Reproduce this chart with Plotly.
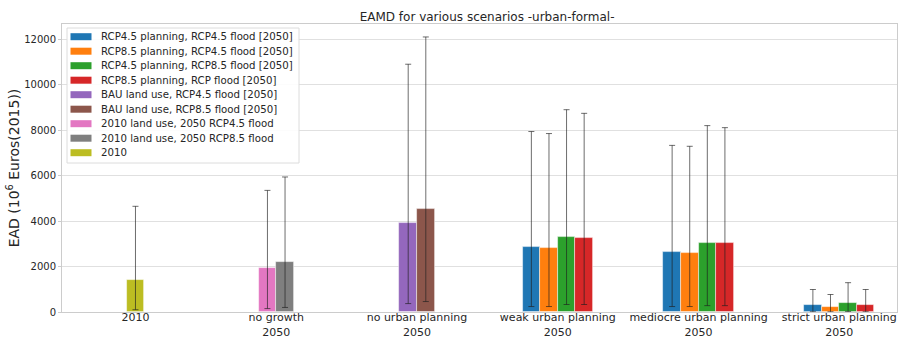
import plotly.graph_objects as go

# Scenario groups along the x axis
categories = ["2010", "no growth<br>2050", "no urban planning<br>2050",
              "weak urban planning<br>2050", "mediocre urban planning<br>2050",
              "strict urban planning<br>2050"]

# Series names
s_rcp45_45 = "RCP4.5 planning, RCP4.5 flood [2050]"
s_rcp85_45 = "RCP8.5 planning, RCP4.5 flood [2050]"
s_rcp45_85 = "RCP4.5 planning, RCP8.5 flood [2050]"
s_rcp85_85 = "RCP8.5 planning, RCP flood [2050]"
s_bau_45 = "BAU land use, RCP4.5 flood [2050]"
s_bau_85 = "BAU land use, RCP8.5 flood [2050]"
s_2010_45 = "2010 land use, 2050 RCP4.5 flood"
s_2010_85 = "2010 land use, 2050 RCP8.5 flood"
s_2010 = "2010"

# weak / mediocre / strict planning values (mean, upper, lower)
rcp45_45_vals = [2850, 2640, 300]
rcp45_45_hi = [7940, 7330, 990]
rcp45_45_lo = [240, 240, 10]

rcp85_45_vals = [2800, 2610, 210]
rcp85_45_hi = [7850, 7290, 770]
rcp85_45_lo = [240, 240, 10]

rcp45_85_vals = [3290, 3050, 415]
rcp45_85_hi = [8900, 8200, 1290]
rcp45_85_lo = [330, 280, 15]

rcp85_85_vals = [3240, 3020, 300]
rcp85_85_hi = [8740, 8110, 990]
rcp85_85_lo = [330, 280, 10]

# no urban planning
bau_45_vals = [3920]
bau_45_hi = [10900]
bau_45_lo = [370]
bau_85_vals = [4520]
bau_85_hi = [12100]
bau_85_lo = [460]

# no growth
l2010_45_vals = [1930]
l2010_45_hi = [5350]
l2010_45_lo = [150]
l2010_85_vals = [2220]
l2010_85_hi = [5940]
l2010_85_lo = [200]

# baseline
base_vals = [1400]
base_hi = [4650]
base_lo = [100]

series = [
    (s_rcp45_45, "#1f77b4", [3, 4, 5], rcp45_45_vals, rcp45_45_hi, rcp45_45_lo),
    (s_rcp85_45, "#ff7f0e", [3, 4, 5], rcp85_45_vals, rcp85_45_hi, rcp85_45_lo),
    (s_rcp45_85, "#2ca02c", [3, 4, 5], rcp45_85_vals, rcp45_85_hi, rcp45_85_lo),
    (s_rcp85_85, "#d62728", [3, 4, 5], rcp85_85_vals, rcp85_85_hi, rcp85_85_lo),
    (s_bau_45, "#9467bd", [2], bau_45_vals, bau_45_hi, bau_45_lo),
    (s_bau_85, "#8c564b", [2], bau_85_vals, bau_85_hi, bau_85_lo),
    (s_2010_45, "#e377c2", [1], l2010_45_vals, l2010_45_hi, l2010_45_lo),
    (s_2010_85, "#7f7f7f", [1], l2010_85_vals, l2010_85_hi, l2010_85_lo),
    (s_2010, "#bcbd22", [0], base_vals, base_hi, base_lo),
]

BAR_W = 0.125
W, H = 902, 337
ML, MR, MT, MB = 62, 5, 24, 25
PW, PH = W - ML - MR, H - MT - MB

# how many series share each category, and the slot each one takes
members = {i: [] for i in range(len(categories))}
for k, (_, _, cats, *_rest) in enumerate(series):
    for c in cats:
        members[c].append(k)

fig = go.Figure()
for k, (name, color, cats, vals, hi, lo) in enumerate(series):
    xs = []
    for c in cats:
        n = len(members[c])
        slot = members[c].index(k)
        xs.append(c + (slot - (n - 1) / 2) * BAR_W)
    fig.add_trace(go.Bar(
        x=xs, y=vals, width=BAR_W, name=name, showlegend=False,
        marker=dict(color=color, line=dict(color="rgba(255,255,255,0.6)", width=0.8)),
        error_y=dict(type="data", symmetric=False,
                     array=[h - v for h, v in zip(hi, vals)],
                     arrayminus=[v - l for v, l in zip(vals, lo)],
                     color="rgba(30,30,30,0.65)", thickness=1, width=3),
    ))


# legend box drawn in paper coordinates (pixel offsets inside the plot area)
def px_x(p):
    return (p - ML) / PW


def px_y(p):
    return (H - MB - p) / PH


shapes = [dict(type="rect", xref="paper", yref="paper",
               x0=px_x(67), x1=px_x(299), y0=px_y(163), y1=px_y(28),
               line=dict(color="#dcdcdc", width=1), fillcolor="rgba(255,255,255,0.9)",
               layer="above")]
annotations = []
row0, row_gap = 36.7, 14.5
for k, (name, color, *_rest) in enumerate(series):
    cy = row0 + k * row_gap
    shapes.append(dict(type="rect", xref="paper", yref="paper",
                       x0=px_x(70.5), x1=px_x(91.5), y0=px_y(cy + 3.5), y1=px_y(cy - 3.5),
                       line=dict(width=0), fillcolor=color, layer="above"))
    annotations.append(dict(text=name, xref="paper", yref="paper",
                            x=px_x(99), y=px_y(cy), xanchor="left", yanchor="middle",
                            showarrow=False, font=dict(size=10.2, color="#262626")))

fig.update_layout(
    width=W, height=H,
    margin=dict(l=ML, r=MR, t=MT, b=MB),
    paper_bgcolor="white", plot_bgcolor="white",
    font=dict(family="DejaVu Sans", color="#262626"),
    title=dict(text="EAMD for various scenarios -urban-formal-",
               x=0.54, xanchor="center", y=1 - 17 / H, yanchor="middle",
               font=dict(size=12, color="#262626")),
    showlegend=False,
    shapes=shapes, annotations=annotations,
    bargap=0,
)

fig.update_xaxes(
    range=[-0.522, 5.41], tickvals=list(range(len(categories))), ticktext=categories,
    tickangle=0, automargin=False, ticklabelstandoff=-5,
    tickfont=dict(size=11, color="#262626"), showgrid=False, zeroline=False,
    showline=True, linecolor="#cccccc", linewidth=1, mirror=True,
    ticks="", ticklen=0,
)
fig.update_yaxes(
    range=[0, 12670], tickvals=[0, 2000, 4000, 6000, 8000, 10000, 12000],
    tickformat="d", tickfont=dict(size=10, color="#262626"), automargin=False,
    showgrid=True, gridcolor="#e0e0e0", gridwidth=1, zeroline=False,
    showline=True, linecolor="#cccccc", linewidth=1, mirror=True,
    ticks="outside", ticklen=3, tickcolor="#cccccc",
    title=dict(text="EAD (10<sup>6</sup> Euros(2015))", font=dict(size=14, color="#262626"),
               standoff=1),
)

fig.write_html("out.html")
